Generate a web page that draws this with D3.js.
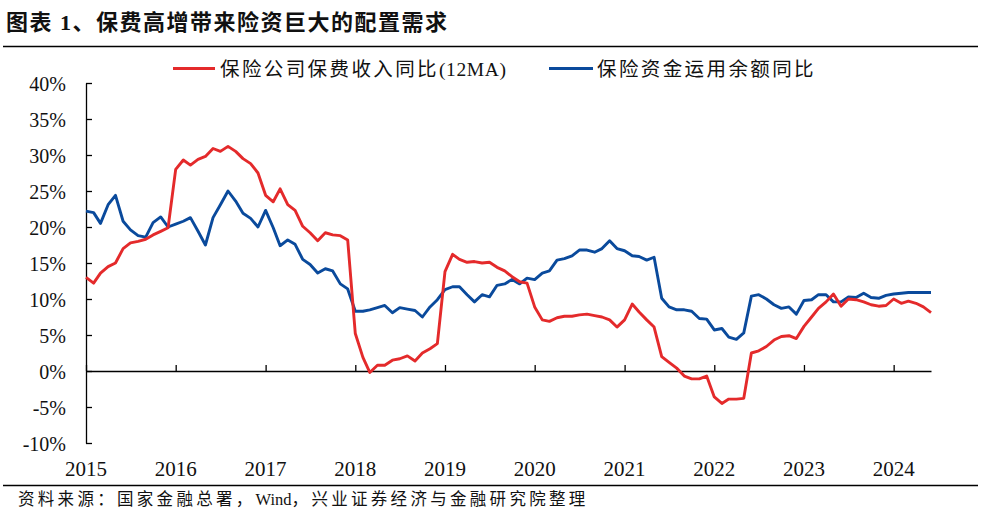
<!DOCTYPE html>
<html>
<head>
<meta charset="utf-8">
<script src="https://cdn.jsdelivr.net/npm/d3@7/dist/d3.min.js"></script>
<style>
  html, body { margin: 0; padding: 0; background: #fff; }
  svg { display: block; }
</style>
</head>
<body>
<svg id="chart" width="985" height="514"></svg>
<script>
// ---------- data ----------
const titleText = "图表 1、保费高增带来险资巨大的配置需求";
const sourceText = "资料来源：国家金融总署，Wind，兴业证券经济与金融研究院整理";
const seriesNames = ["保险公司保费收入同比(12MA)", "保险资金运用余额同比"];
const seriesColors = ["#e42a2b", "#0a4a9c"];
const startMonth = new Date(2015, 0, 1);
const endMonthExclusive = new Date(2024, 6, 1);
const yearTicks = [2015, 2016, 2017, 2018, 2019, 2020, 2021, 2022, 2023, 2024];
const yTickValues = [-10, -5, 0, 5, 10, 15, 20, 25, 30, 35, 40];

// 保险公司保费收入同比(12MA), %, monthly from 2015-01
const premiumYoY = [
  13.0, 12.2, 13.6, 14.5, 15.0, 17.0, 17.8, 18.0, 18.3, 18.9, 19.4, 19.9,
  28.0, 29.3, 28.6, 29.4, 29.8, 30.9, 30.5, 31.2, 30.5, 29.5, 28.8, 27.5,
  24.4, 23.5, 25.3, 23.1, 22.3, 20.1, 19.2, 18.1, 19.2, 18.9, 18.8, 18.2,
  5.2, 1.9, -0.2, 0.8, 0.8, 1.5, 1.7, 2.1, 1.4, 2.5, 3.1, 3.8,
  13.8, 16.2, 15.5, 15.1, 15.2, 15.0, 15.1, 14.4, 13.9, 13.1, 12.4, 12.2,
  8.9, 7.1, 6.9, 7.4, 7.6, 7.6, 7.8, 7.9, 7.7, 7.5, 7.1, 6.1,
  7.1, 9.3, 8.2, 7.1, 6.1, 2.0, 1.2, 0.4, -0.7, -1.1, -1.1, -0.7,
  -3.6, -4.5, -3.9, -3.9, -3.8, 2.5, 2.8, 3.4, 4.3, 4.8, 4.9, 4.5,
  6.2, 7.5, 8.7, 9.6, 10.7, 9.0, 10.0, 9.9, 9.6, 9.2, 9.0, 9.1,
  10.0, 9.4, 9.7, 9.4, 8.9, 8.1
];

// 保险资金运用余额同比, %, monthly from 2015-01
const fundsYoY = [
  22.2, 22.0, 20.5, 23.1, 24.4, 20.8, 19.6, 18.8, 18.6, 20.6, 21.4, 20.0,
  20.4, 20.8, 21.3, 19.4, 17.5, 21.3, 23.1, 25.0, 23.6, 21.9, 21.2, 20.0,
  22.3, 19.9, 17.4, 18.2, 17.6, 15.5, 14.8, 13.6, 14.2, 13.9, 12.1, 11.4,
  8.3, 8.3, 8.5, 8.8, 9.1, 8.1, 8.8, 8.6, 8.4, 7.5, 8.9, 9.9,
  11.3, 11.7, 11.7, 10.6, 9.6, 10.6, 10.3, 11.9, 12.1, 12.7, 12.1, 12.9,
  12.7, 13.6, 13.9, 15.4, 15.6, 16.0, 16.8, 16.8, 16.5, 17.0, 18.1, 17.0,
  16.7, 16.0, 15.9, 15.4, 15.8, 10.1, 8.9, 8.5, 8.5, 8.3, 7.3, 7.2,
  5.7, 5.9, 4.7, 4.4, 5.3, 10.4, 10.6, 10.0, 9.2, 8.7, 8.9, 7.9,
  9.8, 9.9, 10.6, 10.6, 9.6, 9.6, 10.3, 10.2, 10.8, 10.2, 10.1, 10.5,
  10.7, 10.8, 10.9, 10.9, 10.9, 10.9
];

// ---------- layout ----------
const svg = d3.select("#chart");
const plot = { left: 86, right: 931, top: 83, bottom: 443 };
const latin = "'Liberation Serif', 'Times New Roman', serif";
const cjk = "'Liberation Serif', 'Noto Sans CJK SC', serif";

const months = d3.timeMonth.range(startMonth, endMonthExclusive);
const lastMonth = months[months.length - 1];

const x = d3.scaleTime().domain([startMonth, lastMonth]).range([plot.left, plot.right]);
const y = d3.scaleLinear().domain([-10, 40]).range([plot.bottom, plot.top]);

// text with different letter-spacing for CJK and Latin runs
function mixedText(sel, str, cjkSpacing, latinSpacing) {
  const runs = str.match(/[\u3000-\u9fff\uff00-\uffef]+|[^\u3000-\u9fff\uff00-\uffef]+/g) || [];
  runs.forEach(r => {
    const isCjk = /[\u3000-\u9fff\uff00-\uffef]/.test(r);
    sel.append("tspan")
      .attr("letter-spacing", isCjk ? cjkSpacing : latinSpacing)
      .text(r);
  });
}

// title
const title = svg.append("text")
  .attr("x", 6).attr("y", 30)
  .attr("font-family", cjk).attr("font-weight", "bold")
  .attr("font-size", 22)
  .attr("fill", "#111");
mixedText(title, titleText, 1.5, 1.5);

svg.append("line")
  .attr("x1", 3).attr("x2", 978).attr("y1", 46.5).attr("y2", 46.5)
  .attr("stroke", "#000").attr("stroke-width", 1.4);

svg.append("line")
  .attr("x1", 3).attr("x2", 978).attr("y1", 485.5).attr("y2", 485.5)
  .attr("stroke", "#000").attr("stroke-width", 1.4);

// source
const src = svg.append("text")
  .attr("x", 18).attr("y", 505)
  .attr("font-family", cjk)
  .attr("font-size", 16.5)
  .attr("fill", "#111");
mixedText(src, sourceText, 3.3, 0);

// legend
const legendItems = [
  { lx1: 173, lx2: 215, tx: 220 },
  { lx1: 549, lx2: 593, tx: 597 }
];
legendItems.forEach((it, i) => {
  svg.append("line")
    .attr("x1", it.lx1).attr("x2", it.lx2).attr("y1", 68.5).attr("y2", 68.5)
    .attr("stroke", seriesColors[i]).attr("stroke-width", 3);
  const t = svg.append("text")
    .attr("x", it.tx).attr("y", 75.5)
    .attr("font-family", cjk)
    .attr("font-size", 19.5)
    .attr("fill", "#111");
  mixedText(t, seriesNames[i], 2.4, 0.6);
});

// y axis
const yAxis = d3.axisLeft(y)
  .tickValues(yTickValues)
  .tickSize(-6)
  .tickSizeOuter(0)
  .tickPadding(20)
  .tickFormat(d => d + "%");
const gy = svg.append("g")
  .attr("transform", `translate(${plot.left},0)`)
  .call(yAxis);
gy.selectAll("text")
  .attr("font-family", latin).attr("font-size", 20).attr("fill", "#111")
  .attr("dy", "0.36em");
gy.selectAll("path, line").attr("stroke", "#000").attr("stroke-width", 1.3);

// x axis at zero
const xAxis = d3.axisBottom(x)
  .tickValues(yearTicks.map(yr => new Date(yr, 0, 1)))
  .tickSize(-6)
  .tickSizeOuter(0)
  .tickFormat("");
const gx = svg.append("g")
  .attr("transform", `translate(0,${y(0)})`)
  .call(xAxis);
gx.selectAll("path, line").attr("stroke", "#000").attr("stroke-width", 1.3);

// year labels
svg.append("g").selectAll("text")
  .data(yearTicks)
  .join("text")
  .attr("x", d => x(new Date(d, 0, 1)))
  .attr("y", 476)
  .attr("text-anchor", "middle")
  .attr("font-family", latin).attr("font-size", 21).attr("fill", "#111")
  .text(d => d);

// lines
const line = d3.line()
  .x((d, i) => x(months[i]))
  .y(d => y(d));

[fundsYoY, premiumYoY].forEach((arr, k) => {
  const color = k === 0 ? seriesColors[1] : seriesColors[0];
  svg.append("path")
    .datum(arr)
    .attr("fill", "none")
    .attr("stroke", color)
    .attr("stroke-width", 2.9)
    .attr("stroke-linejoin", "round")
    .attr("d", line);
});
</script>
</body>
</html>
